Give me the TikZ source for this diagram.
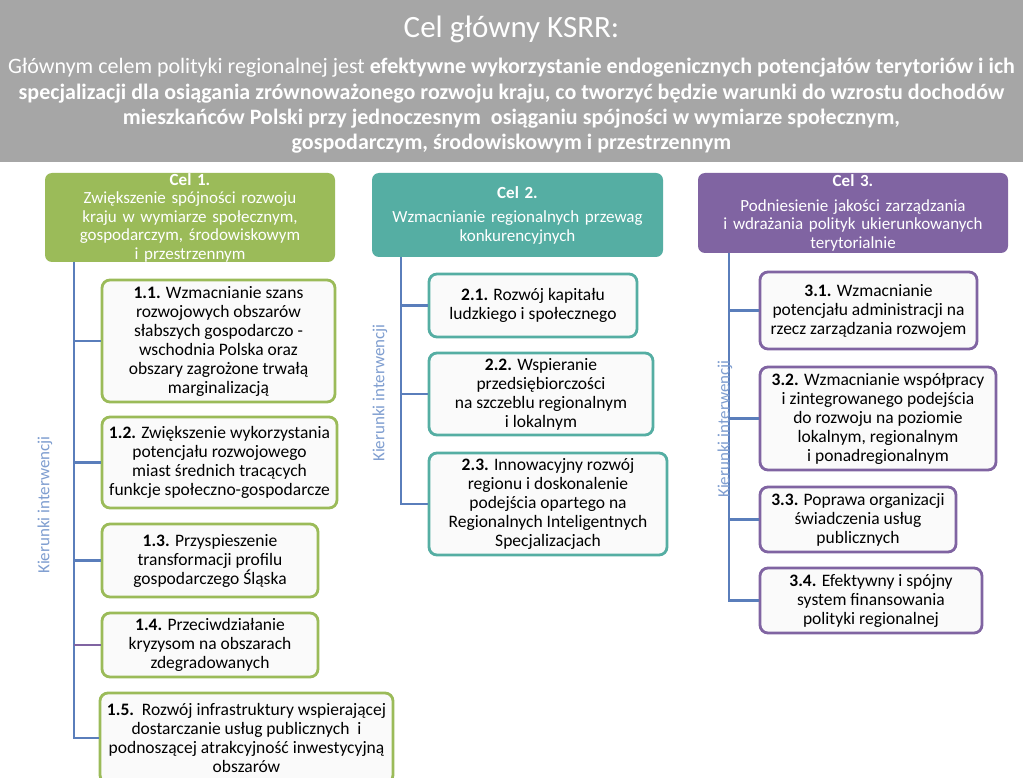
\documentclass[tikz,border=0pt]{standalone}
\usepackage{fontspec}
\setmainfont{Carlito}
\usepackage{tikz}
\definecolor{naglowek}{HTML}{A6A6A6}
\definecolor{zielony}{HTML}{9BBB59}
\definecolor{morski}{HTML}{55AEA3}
\definecolor{fiolet}{HTML}{8064A2}
\definecolor{linia}{HTML}{5A7EBB}
\definecolor{etykieta}{HTML}{7F9ED0}
\definecolor{tlo}{HTML}{FAFAFA}

\begin{document}
\begin{tikzpicture}[x=1pt,y=-1pt,
  celbox/.style={rounded corners=7pt,inner sep=0pt,align=center,text=white,
    font=\fontsize{17}{18.5}\selectfont},
  kbox/.style={draw=#1,fill=tlo,line width=2.8pt,rounded corners=8pt,inner sep=0pt,
    align=center,font=\fontsize{17.5}{19}\selectfont},
  vline/.style={draw=linia,line width=2.8pt},
  kier/.style={rotate=90,text=etykieta,font=\fontsize{17}{18}\selectfont}]
  \useasboundingbox (0,0) rectangle (1023,778);
  \clip (0,0) rectangle (1023,778);
  \fill[white] (0,0) rectangle (1023,778);
  \fill[naglowek] (0,0) rectangle (1023,162);
  \node[text=white,font=\fontsize{31}{34}\selectfont] (tytul) at (511.5,29) {Cel główny KSRR:};
  \node[text=white,align=center,font=\fontsize{22}{25.3}\selectfont] (opis) at (511.5,106)
    {Głównym celem polityki regionalnej jest \textbf{efektywne wykorzystanie endogenicznych potencjałów terytoriów i ich}\\
     \textbf{specjalizacji dla osiągania zrównoważonego rozwoju kraju, co tworzyć będzie warunki do wzrostu dochodów}\\
     \textbf{mieszkańców Polski przy jednoczesnym\ \ osiąganiu spójności w wymiarze społecznym,}\\
     \textbf{gospodarczym, środowiskowym i przestrzennym}};

  \node[celbox,fill=zielony,minimum width=290pt,minimum height=89pt,text width=280pt] (cel1) at (190,217.5)
    {\textbf{Cel 1.}\\Zwiększenie spójności rozwoju\\kraju w wymiarze społecznym,\\gospodarczym, środowiskowym\\i przestrzennym};
  \node[celbox,fill=morski,minimum width=291pt,minimum height=84pt,text width=281pt] (cel2) at (517.5,215)
    {\textbf{Cel 2.}\\[6pt]Wzmacnianie regionalnych przewag\\konkurencyjnych};
  \node[celbox,fill=fiolet,minimum width=310pt,minimum height=80pt,text width=300pt] (cel3) at (853,213)
    {\textbf{Cel 3.}\\[6pt]Podniesienie jakości zarządzania\\i wdrażania polityk ukierunkowanych\\terytorialnie};

  \node[kbox=zielony,minimum width=233pt,minimum height=122pt] (k11) at (218.5,341)
    {\textbf{1.1.} Wzmacnianie szans\\rozwojowych obszarów\\słabszych gospodarczo -\\wschodnia Polska oraz\\obszary zagrożone trwałą\\marginalizacją};
  \node[kbox=zielony,minimum width=235pt,minimum height=91pt] (k12) at (219.5,462.5)
    {\textbf{1.2.} Zwiększenie wykorzystania\\potencjału rozwojowego\\miast średnich tracących\\funkcje społeczno-gospodarcze};
  \node[kbox=zielony,minimum width=216pt,minimum height=73pt] (k13) at (210,560.5)
    {\textbf{1.3.} Przyspieszenie\\transformacji profilu\\gospodarczego Śląska};
  \node[kbox=zielony,minimum width=216pt,minimum height=64pt] (k14) at (210,645)
    {\textbf{1.4.} Przeciwdziałanie\\kryzysom na obszarach\\zdegradowanych};
  \node[kbox=zielony,minimum width=293pt,minimum height=90pt] (k15) at (246.5,738)
    {\textbf{1.5.}\ \ Rozwój infrastruktury wspierającej\\dostarczanie usług publicznych\ \ i\\podnoszącej atrakcyjność inwestycyjną\\obszarów};

  \node[kbox=morski,minimum width=208pt,minimum height=63pt] (k21) at (533,305.5)
    {\textbf{2.1.} Rozwój kapitału\\ludzkiego i społecznego};
  \node[kbox=morski,minimum width=224pt,minimum height=82pt] (k22) at (541,394)
    {\textbf{2.2.} Wspieranie\\przedsiębiorczości\\na szczeblu regionalnym\\i lokalnym};
  \node[kbox=morski,minimum width=238pt,minimum height=102pt] (k23) at (548,504)
    {\textbf{2.3.} Innowacyjny rozwój\\regionu i doskonalenie\\podejścia opartego na\\Regionalnych Inteligentnych\\Specjalizacjach};

  \node[kbox=fiolet,minimum width=217pt,minimum height=77pt] (k31) at (868.5,310.5)
    {\textbf{3.1.} Wzmacnianie\\potencjału administracji na\\rzecz zarządzania rozwojem};
  \node[kbox=fiolet,minimum width=236pt,minimum height=103pt] (k32) at (878,418.5)
    {\textbf{3.2.} Wzmacnianie współpracy\\i zintegrowanego podejścia\\do rozwoju na poziomie\\lokalnym, regionalnym\\i ponadregionalnym};
  \node[kbox=fiolet,minimum width=196pt,minimum height=65pt] (k33) at (858,519.5)
    {\textbf{3.3.} Poprawa organizacji\\świadczenia usług\\publicznych};
  \node[kbox=fiolet,minimum width=222pt,minimum height=65pt] (k34) at (871,600.5)
    {\textbf{3.4.} Efektywny i spójny\\system finansowania\\polityki regionalnej};

  \coordinate (g1) at (74,262);
  \coordinate (g2) at (401,257);
  \coordinate (g3) at (729,253);
  \draw[vline] (g1) |- (k15.west);
  \draw[vline] (g1 |- k11.west) -- (k11.west);
  \draw[vline] (g1 |- k12.west) -- (k12.west);
  \draw[vline] (g1 |- k13.west) -- (k13.west);
  \draw[vline,draw=fiolet] (g1 |- k14.west) -- (k14.west);
  \draw[vline] (g2) |- (k23.west);
  \draw[vline] (g2 |- k21.west) -- (k21.west);
  \draw[vline] (g2 |- k22.west) -- (k22.west);
  \draw[vline] (g3) |- (k34.west);
  \draw[vline] (g3 |- k31.west) -- (k31.west);
  \draw[vline] (g3 |- k32.west) -- (k32.west);
  \draw[vline] (g3 |- k33.west) -- (k33.west);

  \node[kier] (kier1) at (45,505) {Kierunki interwencji};
  \node[kier] (kier2) at (380,393) {Kierunki interwencji};
  \node[kier] (kier3) at (725,429) {Kierunki interwencji};
\end{tikzpicture}
\end{document}
